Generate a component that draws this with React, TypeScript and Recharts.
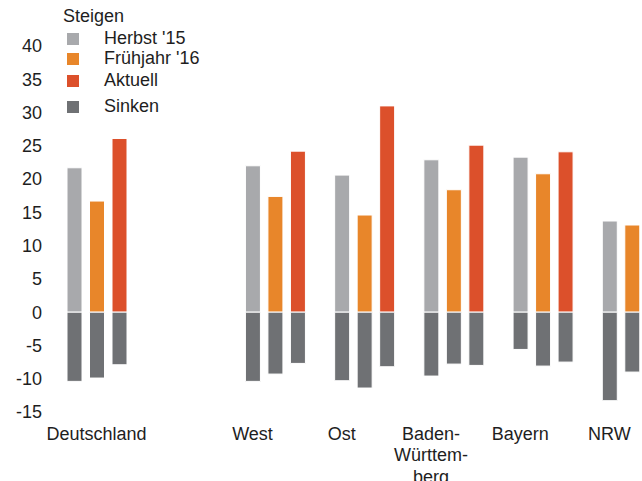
import { BarChart, Bar, XAxis, YAxis } from "recharts";

const categories = ["Deutschland", "", "West", "Ost", "Baden-Württemberg", "Bayern", "NRW"];
const tickLines = [["Deutschland"], [], ["West"], ["Ost"], ["Baden-", "Württem-", "berg"], ["Bayern"], ["NRW"]];

// "Steigen" (rise) per period
const herbstUp = [21.7, null, 22.0, 20.6, 22.9, 23.3, 13.7];
const fruehjahrUp = [16.7, null, 17.4, 14.6, 18.4, 20.8, 13.1];
const aktuellUp = [26.1, null, 24.2, 31.0, 25.1, 24.1, 15.0];

// "Sinken" (fall) per period
const herbstDown = [-10.4, null, -10.4, -10.3, -9.6, -5.6, -13.3];
const fruehjahrDown = [-9.9, null, -9.3, -11.4, -7.8, -8.1, -9.0];
const aktuellDown = [-7.9, null, -7.7, -8.2, -8.0, -7.5, -9.0];

const yTicks = [-15, -10, -5, 0, 5, 10, 15, 20, 25, 30, 35, 40];

const GREY = "#a8a9ac";
const ORANGE = "#e8862a";
const RED = "#dc502b";
const DARK = "#6f7174";

const legendItems = [
    { name: "Herbst '15", color: GREY },
    { name: "Frühjahr '16", color: ORANGE },
    { name: "Aktuell", color: RED },
    { name: "Sinken", color: DARK },
];

const data = categories.map((c, i) => ({
    name: c,
    herbstUp: herbstUp[i],
    fruehjahrUp: fruehjahrUp[i],
    aktuellUp: aktuellUp[i],
    herbstDown: herbstDown[i],
    fruehjahrDown: fruehjahrDown[i],
    aktuellDown: aktuellDown[i],
}));

const FONT = "'Liberation Sans', Arial, sans-serif";

function CategoryTick(props: any) {
    const { x, y, index } = props;
    const lines = tickLines[index] || [];
    // labels sit under the first bar of each group, except the first one
    const cx = index === 0 ? x : x - 22.5;
    return (
        <text x={cx} y={y + 27.5} textAnchor="middle" fontSize={18} fill="#1e1e1e" fontFamily={FONT}>
            {lines.map((l: string, i: number) => (
                <tspan key={i} x={cx} dy={i === 0 ? 0 : 21.5}>{l}</tspan>
            ))}
        </text>
    );
}

function App() {
    return (
        <div style={{ position: "fixed", left: 0, top: 0, width: 642, height: 481, overflow: "hidden", background: "#fff", fontFamily: FONT }}>
            <BarChart
                width={680}
                height={481}
                data={data}
                stackOffset="sign"
                barSize={15}
                barGap={7.5}
                margin={{ top: 46, right: 3.5, left: 0, bottom: 0 }}
            >
                <XAxis
                    dataKey="name"
                    axisLine={false}
                    tickLine={false}
                    tickSize={0}
                    tickMargin={0}
                    height={69}
                    interval={0}
                    tick={<CategoryTick />}
                />
                <YAxis
                    type="number"
                    domain={[-15, 40]}
                    ticks={yTicks}
                    width={52}
                    axisLine={false}
                    tickLine={false}
                    tickMargin={4}
                    interval={0}
                    tick={{ fontSize: 18, fill: "#1e1e1e", fontFamily: FONT }}
                />
                <Bar dataKey="herbstUp" stackId="h" fill={GREY} stroke="#fff" strokeWidth={1} isAnimationActive={false} />
                <Bar dataKey="herbstDown" stackId="h" fill={DARK} stroke="#fff" strokeWidth={1} isAnimationActive={false} />
                <Bar dataKey="fruehjahrUp" stackId="f" fill={ORANGE} stroke="#fff" strokeWidth={1} isAnimationActive={false} />
                <Bar dataKey="fruehjahrDown" stackId="f" fill={DARK} stroke="#fff" strokeWidth={1} isAnimationActive={false} />
                <Bar dataKey="aktuellUp" stackId="a" fill={RED} stroke="#fff" strokeWidth={1} isAnimationActive={false} />
                <Bar dataKey="aktuellDown" stackId="a" fill={DARK} stroke="#fff" strokeWidth={1} isAnimationActive={false} />
            </BarChart>
            <div style={{ position: "absolute", left: 63, top: 6, fontSize: 18, color: "#1e1e1e", lineHeight: "21px" }}>
                <div>Steigen</div>
                {legendItems.map((it, i) => (
                    <div key={it.name} style={{ position: "absolute", left: 0, top: [22, 42, 64, 90][i], width: 160, height: 21 }}>
                        <span style={{ position: "absolute", left: 4, top: 5, width: 12, height: 12, background: it.color }} />
                        <span style={{ position: "absolute", left: 41, top: 0, whiteSpace: "nowrap" }}>{it.name}</span>
                    </div>
                ))}
            </div>
        </div>
    );
}

export default App;
